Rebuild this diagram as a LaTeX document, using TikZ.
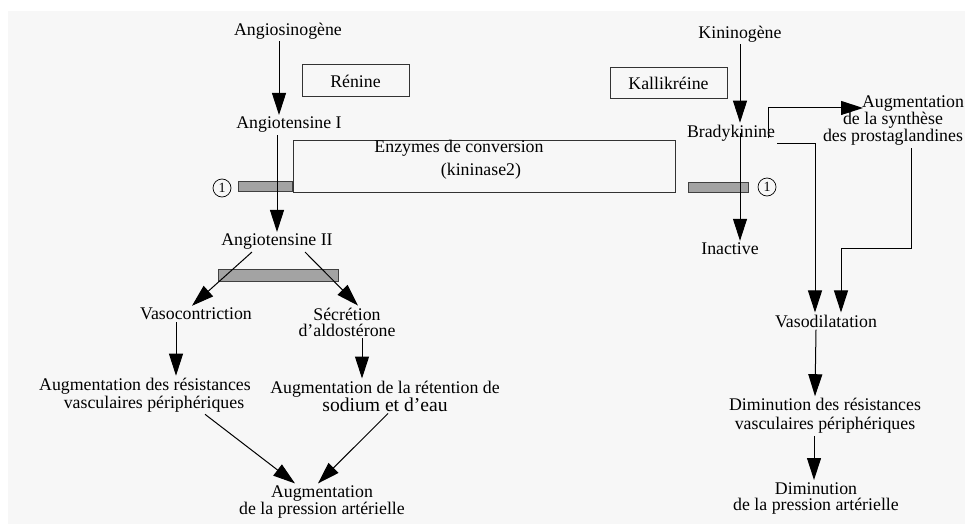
\documentclass[tikz,border=0pt]{standalone}
\usepackage{fontspec}
\setmainfont{Liberation Serif}
\usetikzlibrary{arrows.meta}
\definecolor{bgpaper}{HTML}{F7F7F7}
\definecolor{barfill}{HTML}{A3A3A3}
\tikzset{
  txt/.style={font=\fontsize{17.8}{18}\selectfont, inner sep=2pt, align=center},
  enz/.style={draw=black!80, line width=1pt, inner sep=0pt, font=\fontsize{17.8}{18}\selectfont},
  bar/.style={draw=black!75, fill=barfill, line width=1pt, inner sep=0pt},
  num/.style={draw, circle, line width=0.7pt, minimum size=18pt, inner sep=0pt, font=\fontsize{14}{14}\selectfont},
  arr/.style={-{Triangle[length=22pt,width=14pt]}, line width=1pt},
}
\begin{document}
\begin{tikzpicture}[x=1pt,y=-1pt]
\useasboundingbox (0,0) rectangle (965,524);
\fill[bgpaper] (8,11) rectangle (965,524);
% angiotensine side
\node[txt] (agen) at (288,31) {Angiosinogène};
\node[enz, minimum width=107pt, minimum height=32pt] (renine) at (355.5,81) {Rénine};
\node[txt] (ang1) at (289,125) {Angiotensine I};
\node[enz, minimum width=382pt, minimum height=52pt] (ace) at (484,166) {};
\node[txt] (acetop) at (459,148) {Enzymes de conversion};
\node[txt] (acebot) at (481,171) {(kininase2)};
\node[bar, minimum width=54pt, minimum height=10pt] (bar1) at (265,186) {};
\node[num] (num1) at (222,188) {1};
\node[txt] (ang2) at (277,242) {Angiotensine II};
\node[bar, minimum width=120pt, minimum height=12pt] (bar2) at (278,275) {};
\node[txt] (vaso) at (196,314) {Vasocontriction};
\node[txt, font=\fontsize{17.8}{16}\selectfont] (aldo) at (347,322) {Sécrétion\\d’aldostérone};
\node[txt] (rvp) at (145,395) {Augmentation des résistances\\\hspace*{18pt}vasculaires périphériques};
\node[txt] (retn) at (385,396) {Augmentation de la rétention de\\{\fontsize{19.6}{20}\selectfont sodium et d’eau}};
\node[txt, font=\fontsize{17.8}{15}\selectfont] (pres) at (322,502) {Augmentation\\de la pression artérielle};
% kinine side
\node[txt] (kgen) at (740,34) {Kininogène};
\node[enz, minimum width=117pt, minimum height=31pt] (kalli) at (668.5,83.5) {Kallikréine};
\node[txt] (brady) at (731,133) {Bradykinine};
\node[bar, minimum width=60pt, minimum height=10pt] (bar3) at (718,187) {};
\node[num] (num2) at (767,187) {1};
\node[txt] (inact) at (730,249) {Inactive};
\node[txt, font=\fontsize{17.8}{17}\selectfont] (prosta) at (893,121) {\hspace*{40pt}Augmentation\\de la synthèse\\des prostaglandines};
\node[txt] (vdil) at (826,321) {Vasodilatation};
\node[txt, font=\fontsize{17.8}{19}\selectfont] (dres) at (825,416) {Diminution des résistances\\vasculaires périphériques};
\node[txt, font=\fontsize{17.8}{16}\selectfont] (dpres) at (816,498) {Diminution\\de la pression artérielle};
% arrows
\draw[arr] ([xshift=-9pt]agen.south) -- ([xshift=-10pt]ang1.north);
\draw[arr] ([xshift=-12pt]ang1.south) -- (ang2.north);
\draw[arr] ([xshift=-25pt]ang2.south) -- ([xshift=-4pt]vaso.north);
\draw[arr] ([xshift=28pt]ang2.south) -- ([xshift=11pt]aldo.north);
\draw[arr] ([xshift=-20pt]vaso.south) -- ([xshift=31pt]rvp.north);
\draw[arr] ([xshift=15pt]aldo.south) -- ([xshift=-23pt]retn.north);
\draw[arr] ([xshift=60pt]rvp.south) -- ([xshift=-27pt]pres.north);
\draw[arr] ([xshift=3pt]retn.south) -- ([xshift=-4pt]pres.north);
\draw[arr] (kgen.south) -- ([xshift=9pt]brady.north);
\draw[arr] ([xshift=9pt]brady.center) -- ([xshift=10pt]inact.north);
\draw[arr] ([xshift=-9pt,yshift=-5pt]brady.east) |- ([xshift=-30pt,yshift=-14pt]prosta.north);
\draw[arr] ([yshift=-10pt]brady.east) -| ([xshift=-11pt]vdil.north);
\draw[arr] ([xshift=18pt]prosta.south) -- ++(0,100) -| ([xshift=15pt]vdil.north);
\draw[arr] ([xshift=-10pt]vdil.south) -- ([xshift=-10pt]dres.north);
\draw[arr] ([xshift=-11pt]dres.south) -- ([xshift=-2pt]dpres.north);
\end{tikzpicture}
\end{document}
